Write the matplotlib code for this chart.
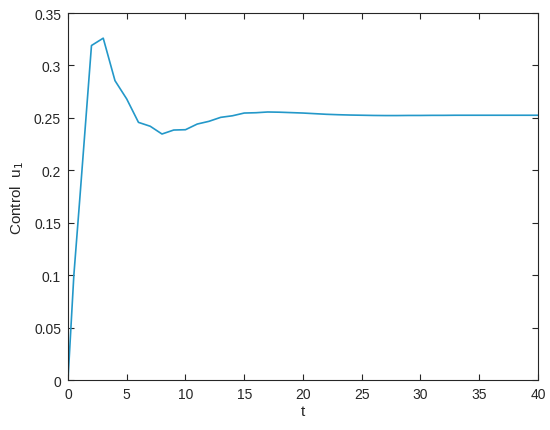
import matplotlib
matplotlib.use('Agg')
import matplotlib.pyplot as plt
import numpy as np

# Control signal u1
t = [0, 0.5, 1, 2, 3, 4, 5, 6, 7, 8, 9, 10, 11, 12, 13, 14, 15, 16, 17, 18, 19, 20,
     21, 22, 23, 24, 25, 26, 27, 28, 29, 30, 31, 32, 33, 34, 35, 36, 37, 38, 39, 40]
u1 = [0, 0.100, 0.172, 0.319, 0.326, 0.2855, 0.268, 0.2457, 0.242, 0.2346, 0.2384,
      0.2387, 0.2441, 0.2467, 0.2505, 0.2520, 0.2546, 0.2549, 0.2556, 0.2554, 0.2550,
      0.2546, 0.2540, 0.2534, 0.2530, 0.2527, 0.2525, 0.2523, 0.2522, 0.2522, 0.2523,
      0.2523, 0.2524, 0.2524, 0.2525, 0.2525, 0.2525, 0.2525, 0.2525, 0.2525, 0.2525, 0.2525]

xticks = np.arange(0, 41, 5)
yticks = [0, 0.05, 0.1, 0.15, 0.2, 0.25, 0.3, 0.35]
ytick_labels = ['0', '0.05', '0.1', '0.15', '0.2', '0.25', '0.3', '0.35']

plt.rcParams['font.family'] = ['Liberation Sans', 'DejaVu Sans']
axcol = '#262626'

fig = plt.figure(figsize=(5.5, 4.31), dpi=100)
ax = fig.add_axes([0.1236, 0.116, 0.8545, 0.8515])
ax.plot(t, u1, color='#2398c9', linewidth=1.2)

ax.set_xlim(0, 40)
ax.set_ylim(0, 0.35)
ax.set_xticks(xticks)
ax.set_yticks(yticks)
ax.set_yticklabels(ytick_labels)
ax.tick_params(direction='in', top=True, right=True, length=4, width=0.8,
               colors=axcol, labelsize=10, pad=5)
for s in ax.spines.values():
    s.set_color(axcol)
    s.set_linewidth(0.8)

ax.set_xlabel('t', fontsize=11, color=axcol, labelpad=2)
ax.set_ylabel('Control  u$_1$', fontsize=11, color=axcol, labelpad=6)

fig.savefig('out.png', dpi=100)
